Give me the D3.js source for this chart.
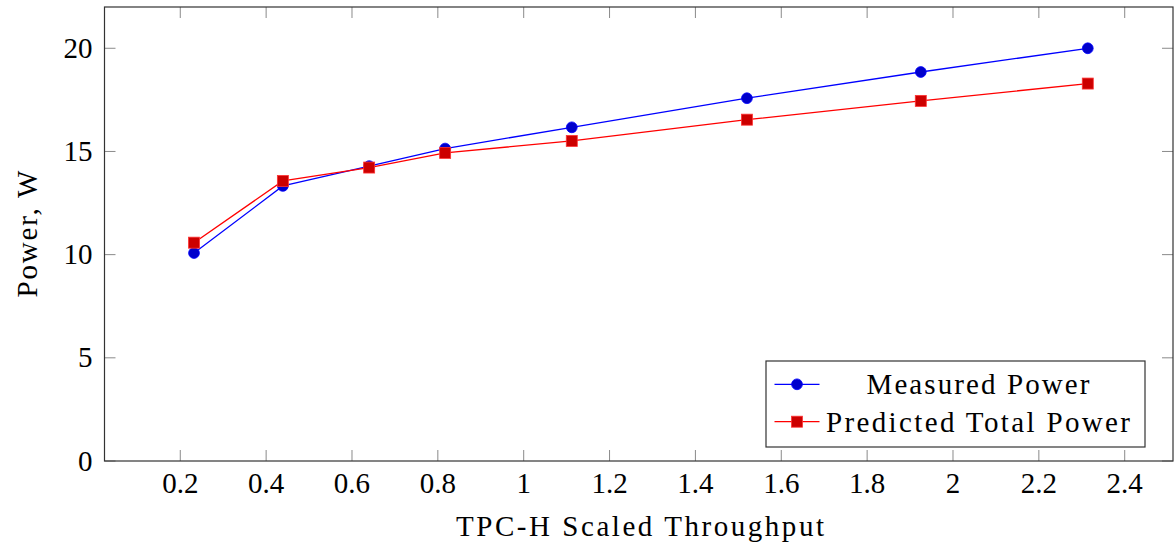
<!DOCTYPE html>
<html>
<head>
<meta charset="utf-8">
<script src="https://cdn.jsdelivr.net/npm/d3@7"></script>
<style>
  html, body { margin: 0; padding: 0; background: #fff; }
  svg { display: block; }
  text { font-family: "Liberation Serif", "Times New Roman", serif; fill: #000; }
</style>
</head>
<body>
<svg id="chart" width="1174" height="546"></svg>
<script>
// ---- data ----
const throughput = [0.232, 0.439, 0.640, 0.817, 1.112, 1.520, 1.925, 2.314];
const measuredPower = [10.08, 13.33, 14.29, 15.14, 16.17, 17.58, 18.85, 20.0];
const predictedPower = [10.58, 13.57, 14.22, 14.93, 15.51, 16.54, 17.45, 18.29];
const xTicks = [0.2, 0.4, 0.6, 0.8, 1, 1.2, 1.4, 1.6, 1.8, 2, 2.2, 2.4];
const yTicks = [0, 5, 10, 15, 20];
const seriesNames = ["Measured Power", "Predicted Total Power"];
const xTitle = "TPC-H Scaled Throughput";
const yTitle = "Power, W";

// ---- layout ----
const svg = d3.select("#chart");
const L = 104.5, R = 1173, T = 7, B = 461;
const x = d3.scaleLinear().domain([0.0235, 2.5125]).range([L, R]);
const y = d3.scaleLinear().domain([0, 22]).range([B, T]);
const fontSize = 29;
const tickLen = 11;

// ticks (inside, mirrored)
const tg = svg.append("g").attr("stroke", "#8a8a8a").attr("stroke-width", 1);
xTicks.forEach(v => {
  const px = x(v);
  tg.append("line").attr("x1", px).attr("x2", px).attr("y1", B).attr("y2", B - tickLen);
  tg.append("line").attr("x1", px).attr("x2", px).attr("y1", T).attr("y2", T + tickLen);
});
yTicks.forEach(v => {
  const py = y(v);
  tg.append("line").attr("x1", L).attr("x2", L + tickLen).attr("y1", py).attr("y2", py);
  tg.append("line").attr("x1", R).attr("x2", R - tickLen).attr("y1", py).attr("y2", py);
});

// frame
svg.append("rect").attr("x", L).attr("y", T).attr("width", R - L).attr("height", B - T)
  .attr("fill", "none").attr("stroke", "#333").attr("stroke-width", 1.2);

// tick labels
const fmt = v => String(+v.toFixed(1));
svg.append("g").selectAll("text").data(xTicks).join("text")
  .attr("x", d => x(d)).attr("y", 492.5).attr("text-anchor", "middle")
  .attr("font-size", fontSize).text(fmt);
svg.append("g").selectAll("text").data(yTicks).join("text")
  .attr("x", 92.5).attr("y", d => y(d) + 9.5).attr("text-anchor", "end")
  .attr("font-size", fontSize).text(d => String(d));

// axis titles
svg.append("text").attr("x", 640).attr("y", 536).attr("text-anchor", "middle")
  .attr("font-size", fontSize).attr("textLength", 368).attr("lengthAdjust", "spacing").text(xTitle);
svg.append("text").attr("transform", `translate(36.5,${(T + B) / 2}) rotate(-90)`)
  .attr("text-anchor", "middle").attr("font-size", fontSize)
  .attr("textLength", 127).attr("lengthAdjust", "spacing").text(yTitle);

// series
const line = d3.line().x(d => x(d[0])).y(d => y(d[1]));
const measured = throughput.map((t, i) => [t, measuredPower[i]]);
const predicted = throughput.map((t, i) => [t, predictedPower[i]]);

svg.append("path").datum(measured).attr("d", line).attr("fill", "none")
  .attr("stroke", "#0000ff").attr("stroke-width", 1.3);
svg.append("g").selectAll("circle").data(measured).join("circle")
  .attr("cx", d => x(d[0])).attr("cy", d => y(d[1])).attr("r", 5.4)
  .attr("fill", "#0000cc").attr("stroke", "#0000ff").attr("stroke-width", 0.8);

svg.append("path").datum(predicted).attr("d", line).attr("fill", "none")
  .attr("stroke", "#ff0000").attr("stroke-width", 1.3);
const sq = 11;
svg.append("g").selectAll("rect").data(predicted).join("rect")
  .attr("x", d => x(d[0]) - sq / 2).attr("y", d => y(d[1]) - sq / 2)
  .attr("width", sq).attr("height", sq)
  .attr("fill", "#cc0000").attr("stroke", "#ff3333").attr("stroke-width", 0.8);

// legend
const lg = svg.append("g");
lg.append("rect").attr("x", 766).attr("y", 361).attr("width", 379).attr("height", 86)
  .attr("fill", "#fff").attr("stroke", "#333").attr("stroke-width", 1.2);
const rows = [384.3, 421.7];
const widths = [223, 304];
const colors = [["#0000ff", "#0000cc"], ["#ff0000", "#cc0000"]];
rows.forEach((ry, i) => {
  lg.append("line").attr("x1", 774.5).attr("x2", 819.5).attr("y1", ry).attr("y2", ry)
    .attr("stroke", colors[i][0]).attr("stroke-width", 1.3);
  if (i === 0) {
    lg.append("circle").attr("cx", 797).attr("cy", ry).attr("r", 5.4)
      .attr("fill", colors[i][1]).attr("stroke", colors[i][0]).attr("stroke-width", 0.8);
  } else {
    lg.append("rect").attr("x", 797 - sq / 2).attr("y", ry - sq / 2).attr("width", sq).attr("height", sq)
      .attr("fill", colors[i][1]).attr("stroke", "#ff3333").attr("stroke-width", 0.8);
  }
  lg.append("text").attr("x", 978).attr("y", ry + 10).attr("text-anchor", "middle")
    .attr("font-size", fontSize).attr("textLength", widths[i]).attr("lengthAdjust", "spacing")
    .text(seriesNames[i]);
});
</script>
</body>
</html>
